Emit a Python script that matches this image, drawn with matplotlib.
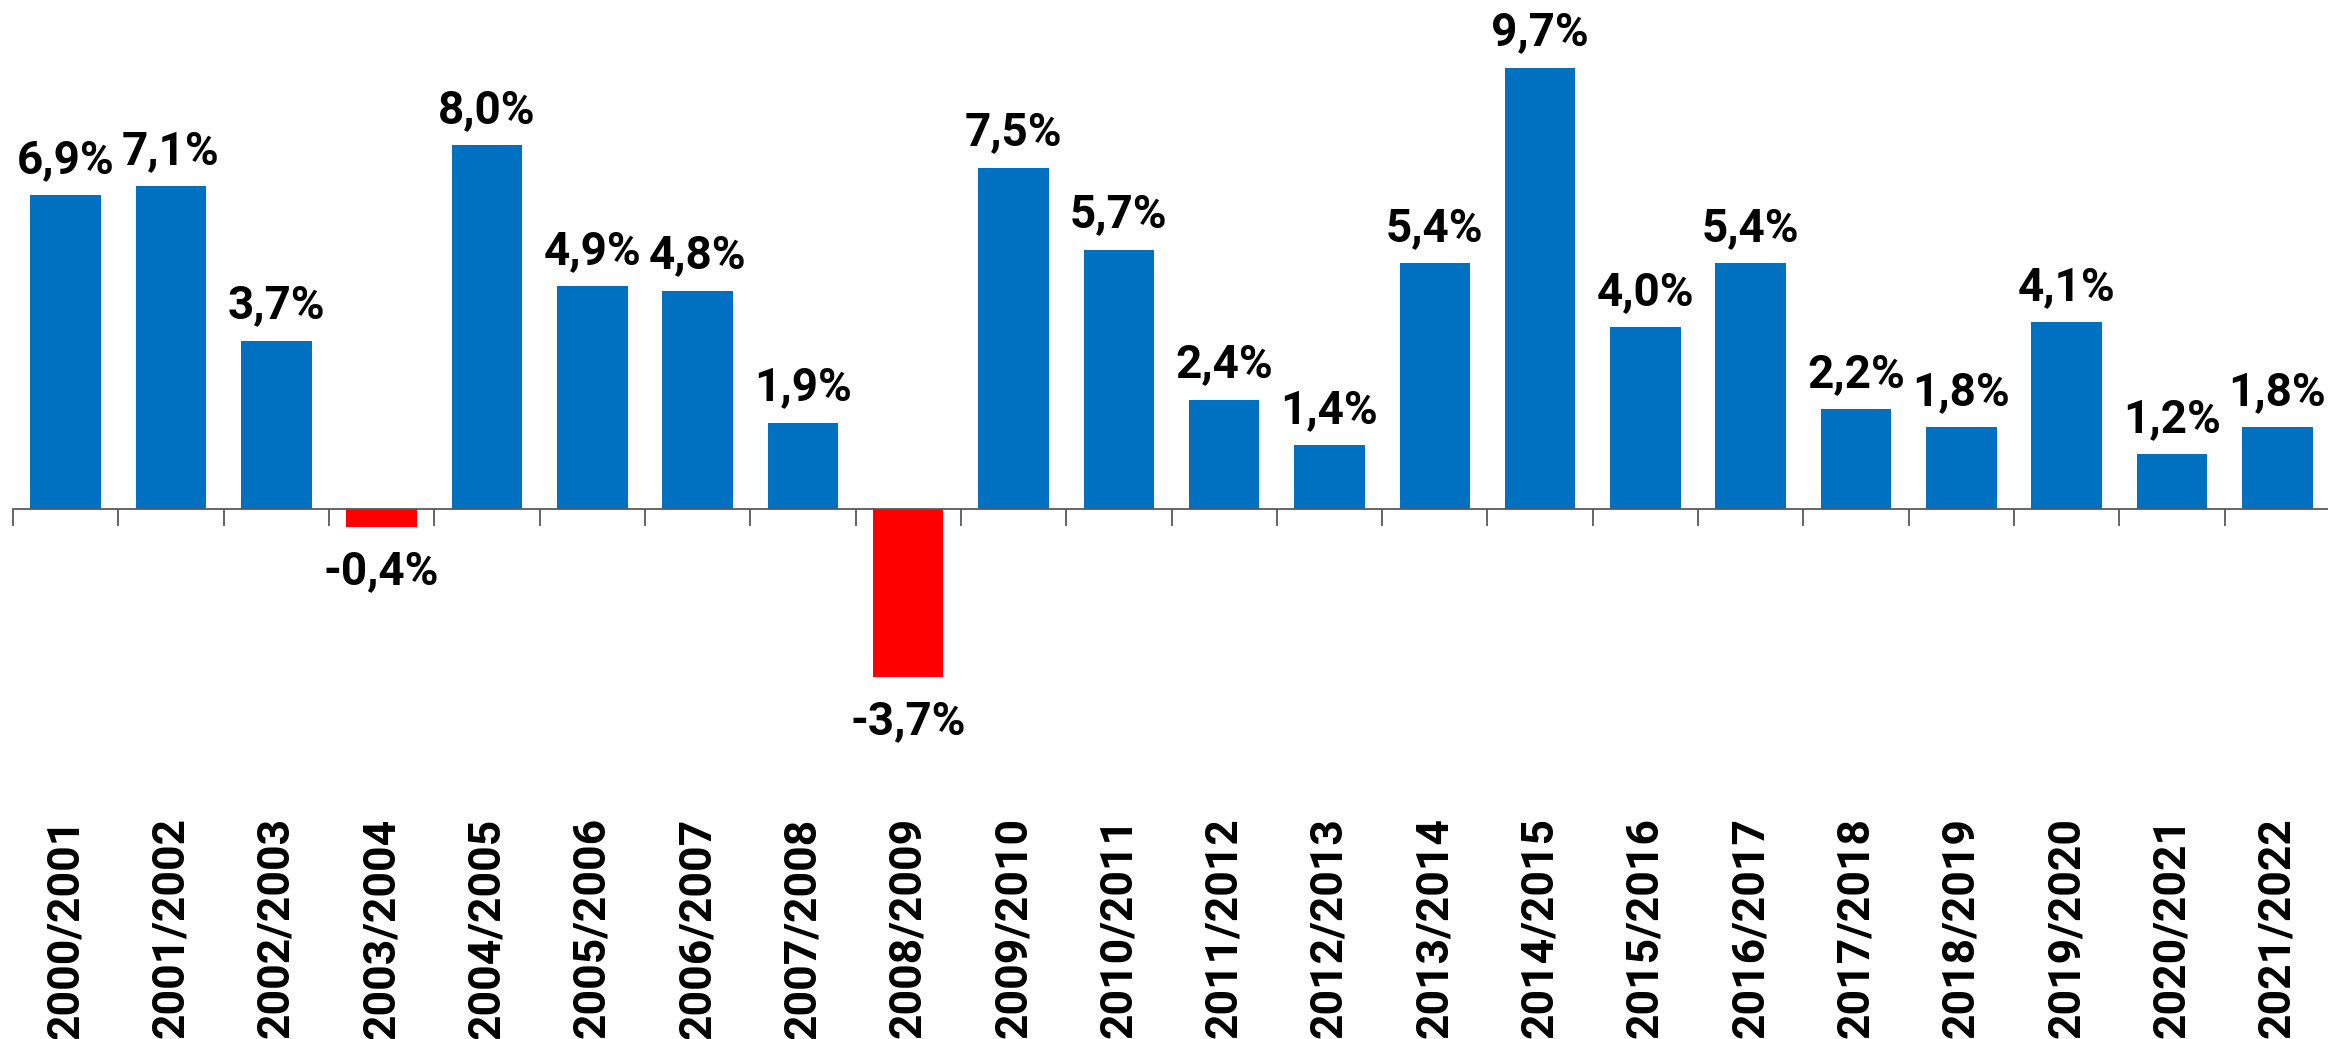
import numpy as np
import matplotlib.pyplot as plt

plt.rcParams['font.family'] = ['Roboto', 'DejaVu Sans']

# Годы и прирост, %
seasons = ['2000/2001', '2001/2002', '2002/2003', '2003/2004', '2004/2005',
           '2005/2006', '2006/2007', '2007/2008', '2008/2009', '2009/2010',
           '2010/2011', '2011/2012', '2012/2013', '2013/2014', '2014/2015',
           '2015/2016', '2016/2017', '2017/2018', '2018/2019', '2019/2020',
           '2020/2021', '2021/2022']
growth = [6.9, 7.1, 3.7, -0.4, 8.0, 4.9, 4.8, 1.9, -3.7, 7.5, 5.7,
          2.4, 1.4, 5.4, 9.7, 4.0, 5.4, 2.2, 1.8, 4.1, 1.2, 1.8]

blue = '#0070C0'
red = '#FF0000'
colors = [blue if v >= 0 else red for v in growth]

W, H, dpi = 2328, 1039, 100
fig = plt.figure(figsize=(W / dpi, H / dpi), dpi=dpi)

# оси: ноль на 509 px сверху, 45.5 px на 1%
px_per = 45.5
top_px, bottom_px = 0, 780
ax = fig.add_axes([13 / W, 1 - bottom_px / H, 2317 / W, (bottom_px - top_px) / H])
x = np.arange(len(seasons))
ax.bar(x, growth, width=0.67, color=colors, edgecolor='none', zorder=2)
ax.set_xlim(-0.5, len(seasons) - 0.5)
ax.set_ylim(-(bottom_px - 509) / px_per, 509 / px_per)

for s in ['top', 'right', 'left']:
    ax.spines[s].set_visible(False)
ax.spines['bottom'].set_position(('data', 0))
ax.spines['bottom'].set_color('#595959')
ax.spines['bottom'].set_linewidth(1.3)
ax.set_yticks([])

ax.set_xticks(x)
ax.set_xticklabels(seasons, rotation=90, fontsize=32, fontweight='bold',
                   va='top', ha='center')
ax.tick_params(axis='x', which='major', length=0, pad=222)
ax.set_xticks(np.arange(len(seasons) + 1) - 0.5, minor=True)
ax.tick_params(axis='x', which='minor', length=12, width=1.3, color='#595959',
               direction='out')

for xi, v in zip(x, growth):
    txt = f'{v:.1f}%'.replace('.', ',')
    if v >= 0:
        ax.annotate(txt, (xi, v), xytext=(0, 16), textcoords='offset points',
                    ha='center', va='baseline', fontsize=33, fontweight='bold')
    else:
        ax.annotate(txt, (xi, v), xytext=(0, -16), textcoords='offset points',
                    ha='center', va='top', fontsize=33, fontweight='bold')

fig.savefig('out.png', dpi=dpi)
